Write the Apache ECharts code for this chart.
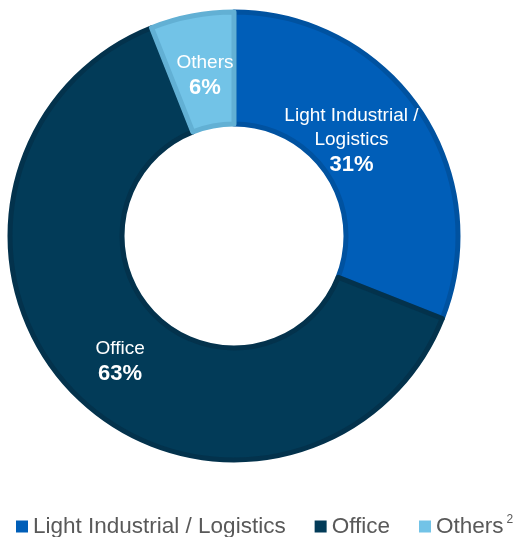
<!DOCTYPE html>
<html>
<head>
<meta charset="utf-8">
<script src="https://cdn.jsdelivr.net/npm/echarts@6/dist/echarts.min.js"></script>
<style>html,body{margin:0;padding:0;background:#fff;}#c{width:514px;height:537px;}</style>
</head>
<body>
<div id="c"></div>
<script>
var categories = ['Light Industrial / Logistics', 'Office', 'Others'];
var labelNames = ['Light Industrial /\nLogistics', 'Office', 'Others'];
var values = [31, 63, 6];
var fillColors = ['#005EB8', '#023B58', '#72C3E7'];
var borderColors = ['#0052A0', '#03324C', '#62B0D4'];
var labelShift = [[-24, 1], [7, 5], [3, 8]];

var chart = echarts.init(document.getElementById('c'));
var FF = 'Liberation Sans, Arial, sans-serif';
var data = categories.map(function (c, i) {
  return {
    name: c,
    value: values[i],
    itemStyle: { color: fillColors[i], borderColor: borderColors[i], borderWidth: 5 },
    label: { formatter: '{n|' + labelNames[i].split('\n').join('}\n{n|') + '}\n{p|' + values[i] + '%}' }
  };
});
chart.setOption({
  animation: false,
  legend: {
    bottom: -1,
    left: 16,
    width: 520,
    padding: 0,
    icon: 'rect',
    itemWidth: 12,
    itemHeight: 12,
    itemGap: 29,
    itemStyle: { borderWidth: 0 },
    data: categories,
    formatter: function (n) { return n === 'Others' ? '{t|Others}{s|2}' : '{t|' + n + '}'; },
    textStyle: {
      fontFamily: FF,
      color: '#595959',
      fontSize: 22.5,
      rich: {
        t: { fontSize: 22.5, color: '#595959', fontFamily: FF },
        s: { fontSize: 12, color: '#595959', verticalAlign: 'top', padding: [0, 0, 14, 3], fontFamily: FF }
      }
    }
  },
  series: [{
    type: 'pie',
    center: [234, 236],
    radius: [112, 224],
    startAngle: 90,
    clockwise: true,
    data: data,
    label: {
      show: true,
      position: 'inside',
      overflow: 'none',
      color: '#fff',
      fontFamily: FF,
      rich: {
        n: { fontSize: 19, color: '#fff', lineHeight: 24, fontFamily: FF },
        p: { fontSize: 22, fontWeight: 'bold', color: '#fff', lineHeight: 27, fontFamily: FF }
      }
    },
    labelLayout: function (p) {
      return { dx: labelShift[p.dataIndex][0], dy: labelShift[p.dataIndex][1] };
    },
    labelLine: { show: false },
    emphasis: { disabled: true }
  }]
});
</script>
</body>
</html>
